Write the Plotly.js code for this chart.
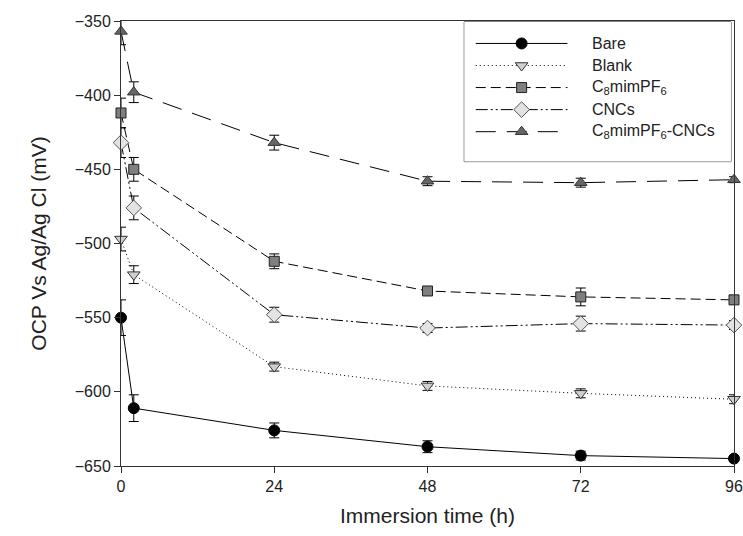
<!DOCTYPE html>
<html>
<head>
<meta charset="utf-8">
<script src="https://cdn.plot.ly/plotly-3.0.1.min.js"></script>
<style>html,body{margin:0;padding:0;background:#fff;}#chart{width:743px;height:536px;}</style>
</head>
<body>
<div id="chart"></div>
<script>
// Data (immersion time in hours, OCP in mV)
const time = [0, 2, 24, 48, 72, 96];
const seriesNames = ["Bare", "Blank", "C<sub>8</sub>mimPF<sub>6</sub>", "CNCs", "C<sub>8</sub>mimPF<sub>6</sub>-CNCs"];
const bare = [-550, -611, -626, -637, -643, -645];
const bareErr = [12, 9, 5, 4, 3, 2];
const blank = [-497, -521, -583, -596, -601, -605];
const blankErr = [8, 6, 3, 3, 3, 3];
const c8 = [-412, -450, -512, -532, -536, -538];
const c8Err = [10, 8, 5, 3, 6, 3];
const cncs = [-432, -476, -548, -557, -554, -555];
const cncsErr = [10, 8, 5, 3, 5, 3];
const mix = [-357, -398, -432, -458, -459, -457];
const mixErr = [9, 7, 5, 3, 3, 2];
const xTicks = [0, 24, 48, 72, 96];

const values = [bare, blank, c8, cncs, mix];
const errors = [bareErr, blankErr, c8Err, cncsErr, mixErr];

const FONT = "Liberation Sans, Arial, sans-serif";

const styles = [
  {symbol: "circle", size: 11, fill: "#000000", outline: "#000000", dash: "solid"},
  {symbol: "triangle-down", size: 11, fill: "#cfcfcf", outline: "#333333", dash: "1px,3px"},
  {symbol: "square", size: 10, fill: "#7f7f7f", outline: "#222222", dash: "10px,5px"},
  {symbol: "diamond", size: 12, fill: "#e3e3e3", outline: "#555555", dash: "12px,3px,2px,3px,2px,3px"},
  {symbol: "triangle-up", size: 11, fill: "#666666", outline: "#333333", dash: "20px,11px"}
];

const traces = [];
values.forEach((v, i) => {
  const s = styles[i];
  traces.push({
    x: time, y: v, type: "scatter", mode: "lines+markers",
    name: seriesNames[i], showlegend: false, cliponaxis: false,
    line: {color: "#000", width: 1, dash: s.dash},
    marker: {symbol: s.symbol, size: s.size, color: s.fill, line: {color: s.outline, width: 1}},
    error_y: {type: "data", array: errors[i], visible: true, color: "#000", thickness: 1, width: 5},
    xaxis: "x", yaxis: "y"
  });
});

// Custom legend drawn on a helper axis pair
const legendRowTop = 21.6, legendRowStep = 22.1;
const sampleX = [0.43, 2.15, 3.87];
const annotations = [];
values.forEach((v, i) => {
  const s = styles[i];
  const yy = legendRowTop + i * legendRowStep;
  traces.push({
    x: sampleX, y: [yy, yy, yy], type: "scatter", mode: "lines",
    showlegend: false, hoverinfo: "skip",
    line: {color: "#000", width: 1, dash: s.dash},
    xaxis: "x2", yaxis: "y2"
  });
  traces.push({
    x: [sampleX[1]], y: [yy], type: "scatter", mode: "markers",
    showlegend: false, hoverinfo: "skip",
    marker: {symbol: s.symbol, size: s.size, color: s.fill, line: {color: s.outline, width: 1}},
    xaxis: "x2", yaxis: "y2"
  });
  annotations.push({
    x: 4.71, y: yy, xref: "x2", yref: "y2", text: seriesNames[i],
    showarrow: false, xanchor: "left", yanchor: "middle",
    font: {family: FONT, size: 16, color: "#222"}
  });
});

const layout = {
  width: 743, height: 536,
  margin: {l: 121, r: 9, t: 21, b: 70},
  paper_bgcolor: "#ffffff", plot_bgcolor: "#ffffff",
  font: {family: FONT, color: "#222", size: 16},
  showlegend: false,
  xaxis: {
    range: [0, 96], tickvals: xTicks, ticktext: xTicks.map(String),
    showgrid: false, zeroline: false, showline: true, mirror: true,
    linecolor: "#333", linewidth: 1, ticks: "outside", ticklen: 6, tickcolor: "#333",
    ticklabeloverflow: "allow",
    tickfont: {family: FONT, size: 16, color: "#222"},
    title: {text: "Immersion time (h)", font: {family: FONT, size: 21, color: "#222"}, standoff: 14}
  },
  yaxis: {
    range: [-650, -350], dtick: 50, tick0: -650,
    showgrid: false, zeroline: false, showline: true, mirror: true,
    linecolor: "#333", linewidth: 1, ticks: "outside", ticklen: 6, tickcolor: "#333",
    tickfont: {family: FONT, size: 16, color: "#222"},
    title: {text: "OCP Vs Ag/Ag Cl (mV)", font: {family: FONT, size: 21, color: "#222"}, standoff: 22}
  },
  xaxis2: {domain: [0.56, 0.995], range: [0, 10], visible: false, fixedrange: true, anchor: "y2"},
  yaxis2: {domain: [0.684, 0.998], range: [140, 0], visible: false, fixedrange: true, anchor: "x2"},
  shapes: [{
    type: "rect", xref: "paper", yref: "paper", x0: 0.56, x1: 0.995, y0: 0.684, y1: 0.998,
    line: {color: "#222", width: 1}, fillcolor: "#ffffff", layer: "below"
  }],
  annotations: annotations
};

Plotly.newPlot("chart", traces, layout, {staticPlot: true, displayModeBar: false});
</script>
</body>
</html>
